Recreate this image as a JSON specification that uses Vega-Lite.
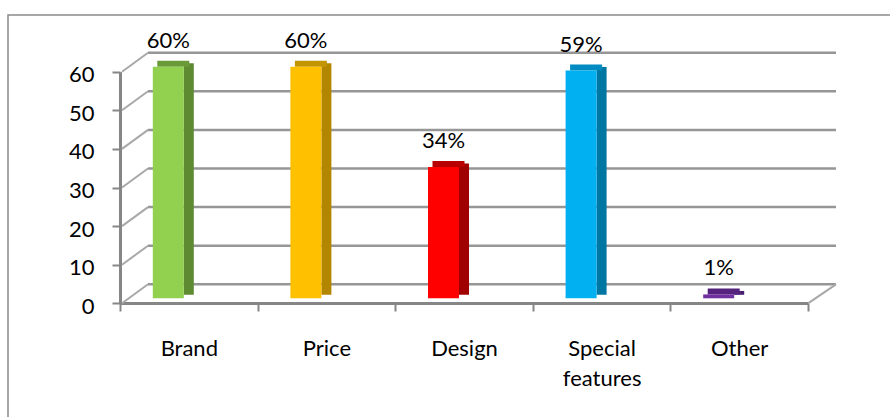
{
  "$schema": "https://vega.github.io/schema/vega-lite/v6.json",
  "width": 890,
  "height": 410,
  "autosize": {"type": "none"},
  "padding": {"left": 8, "top": 15, "right": -8, "bottom": -8},
  "background": "white",
  "config": {
    "view": {"stroke": "#8a8a8a", "strokeWidth": 1.5},
    "font": "Lato",
    "axis": {"grid": false, "title": null}
  },
  "datasets": {
    "bars": [
      {"cat": "Brand", "v": 60, "label": "60%"},
      {"cat": "Price", "v": 60, "label": "60%"},
      {"cat": "Design", "v": 34, "label": "34%"},
      {"cat": "Special features", "v": 59, "label": "59%"},
      {"cat": "Other", "v": 1, "label": "1%"}
    ],
    "grid": [{"v": 0}, {"v": 10}, {"v": 20}, {"v": 30}, {"v": 40}, {"v": 50}, {"v": 60}]
  },
  "encoding": {
    "y": {
      "field": "v", "type": "quantitative",
      "scale": {"domain": [0, 60], "range": [288.3, 56.7], "nice": false, "zero": true},
      "axis": {
        "orient": "left", "offset": -112, "values": [0, 10, 20, 30, 40, 50, 60],
        "domainColor": "#868686", "domainWidth": 3,
        "tickColor": "#868686", "tickWidth": 2, "tickSize": 8,
        "labelFont": "Lato", "labelFontSize": 22, "labelColor": "#000000",
        "labelPadding": 18, "labelOffset": 3
      }
    }
  },
  "resolve": {"scale": {"color": "independent"}},
  "layer": [
    {
      "data": {"name": "bars"},
      "mark": {"type": "bar", "width": 31, "xOffset": -20.5, "yOffset": -5, "y2Offset": -5, "opacity": 1},
      "encoding": {
        "x": {
          "field": "cat", "type": "nominal",
          "scale": {"type": "band", "domain": ["Brand", "Price", "Design", "Special features", "Other"], "range": [112, 800], "paddingInner": 0, "paddingOuter": 0},
          "axis": {
            "orient": "bottom", "offset": -122, "labelAngle": 0,
            "domainColor": "#868686", "domainWidth": 3,
            "tickColor": "#868686", "tickWidth": 2, "tickSize": 8, "tickBand": "extent",
            "labelFont": "Lato", "labelFontSize": 22, "labelColor": "#000000",
            "labelPadding": 27, "labelBaseline": "top", "labelLineHeight": 30,
            "labelExpr": "datum.label == 'Special features' ? ['Special', 'features'] : datum.label"
          }
        },
        "y2": {"datum": 0},
        "color": {"value": "#ffffff"}
      }
    },
    {
      "data": {"name": "grid"},
      "mark": {"type": "rule", "color": "#969696", "strokeWidth": 2.5, "xOffset": 28, "x2Offset": 165.6, "yOffset": -19, "y2Offset": -19},
      "encoding": {
        "x": {"datum": "Brand", "type": "nominal", "bandPosition": 0},
        "x2": {"datum": "Other", "bandPosition": 0},
        "y2": {"field": "v"}
      }
    },
    {
      "data": {"name": "grid"},
      "mark": {"type": "rule", "color": "#a8a8a8", "strokeWidth": 2, "xOffset": 2, "x2Offset": 28, "y2Offset": -19},
      "encoding": {
        "x": {"datum": "Brand", "type": "nominal", "bandPosition": 0},
        "x2": {"datum": "Brand", "bandPosition": 0},
        "y2": {"field": "v"}
      }
    },
    {
      "data": {"values": [{"v": 0}]},
      "mark": {"type": "rule", "color": "#a8a8a8", "strokeWidth": 2, "xOffset": 137.6, "x2Offset": 165.6, "y2Offset": -19},
      "encoding": {
        "x": {"datum": "Other", "type": "nominal", "bandPosition": 0},
        "x2": {"datum": "Other", "bandPosition": 0},
        "y2": {"field": "v"}
      }
    },
    {
      "data": {"name": "bars"},
      "mark": {"type": "bar", "width": 10, "xOffset": 0, "yOffset": -8.5, "y2Offset": -8.5, "opacity": 1},
      "encoding": {
        "x": {"field": "cat", "type": "nominal"},
        "y2": {"datum": 0},
        "color": {"field": "cat", "type": "nominal", "legend": null,
          "scale": {"domain": ["Brand", "Price", "Design", "Special features", "Other"], "range": ["#5e8a32", "#b38600", "#a00000", "#0076a3", "#4b1f70"]}}
      }
    },
    {
      "data": {"name": "bars"},
      "mark": {"type": "tick", "thickness": 6, "size": 32, "xOffset": -15.5, "yOffset": -8, "opacity": 1},
      "encoding": {
        "x": {"field": "cat", "type": "nominal"},
        "color": {"field": "cat", "type": "nominal", "legend": null,
          "scale": {"domain": ["Brand", "Price", "Design", "Special features", "Other"], "range": ["#6a9a38", "#c29400", "#b80000", "#008cc2", "#55237e"]}}
      }
    },
    {
      "data": {"name": "bars"},
      "mark": {"type": "bar", "width": 31, "xOffset": -20.5, "yOffset": -5, "y2Offset": -5, "opacity": 1},
      "encoding": {
        "x": {"field": "cat", "type": "nominal"},
        "y2": {"datum": 0},
        "color": {"field": "cat", "type": "nominal", "legend": null,
          "scale": {"domain": ["Brand", "Price", "Design", "Special features", "Other"], "range": ["#92d050", "#ffc000", "#ff0000", "#00b0f0", "#7030a0"]}}
      }
    },
    {
      "data": {"name": "bars"},
      "mark": {"type": "text", "font": "Lato", "fontSize": 22, "color": "#000000", "align": "center", "baseline": "alphabetic", "xOffset": -20.5, "yOffset": -24},
      "encoding": {
        "x": {"field": "cat", "type": "nominal"},
        "text": {"field": "label", "type": "nominal"}
      }
    }
  ]
}
